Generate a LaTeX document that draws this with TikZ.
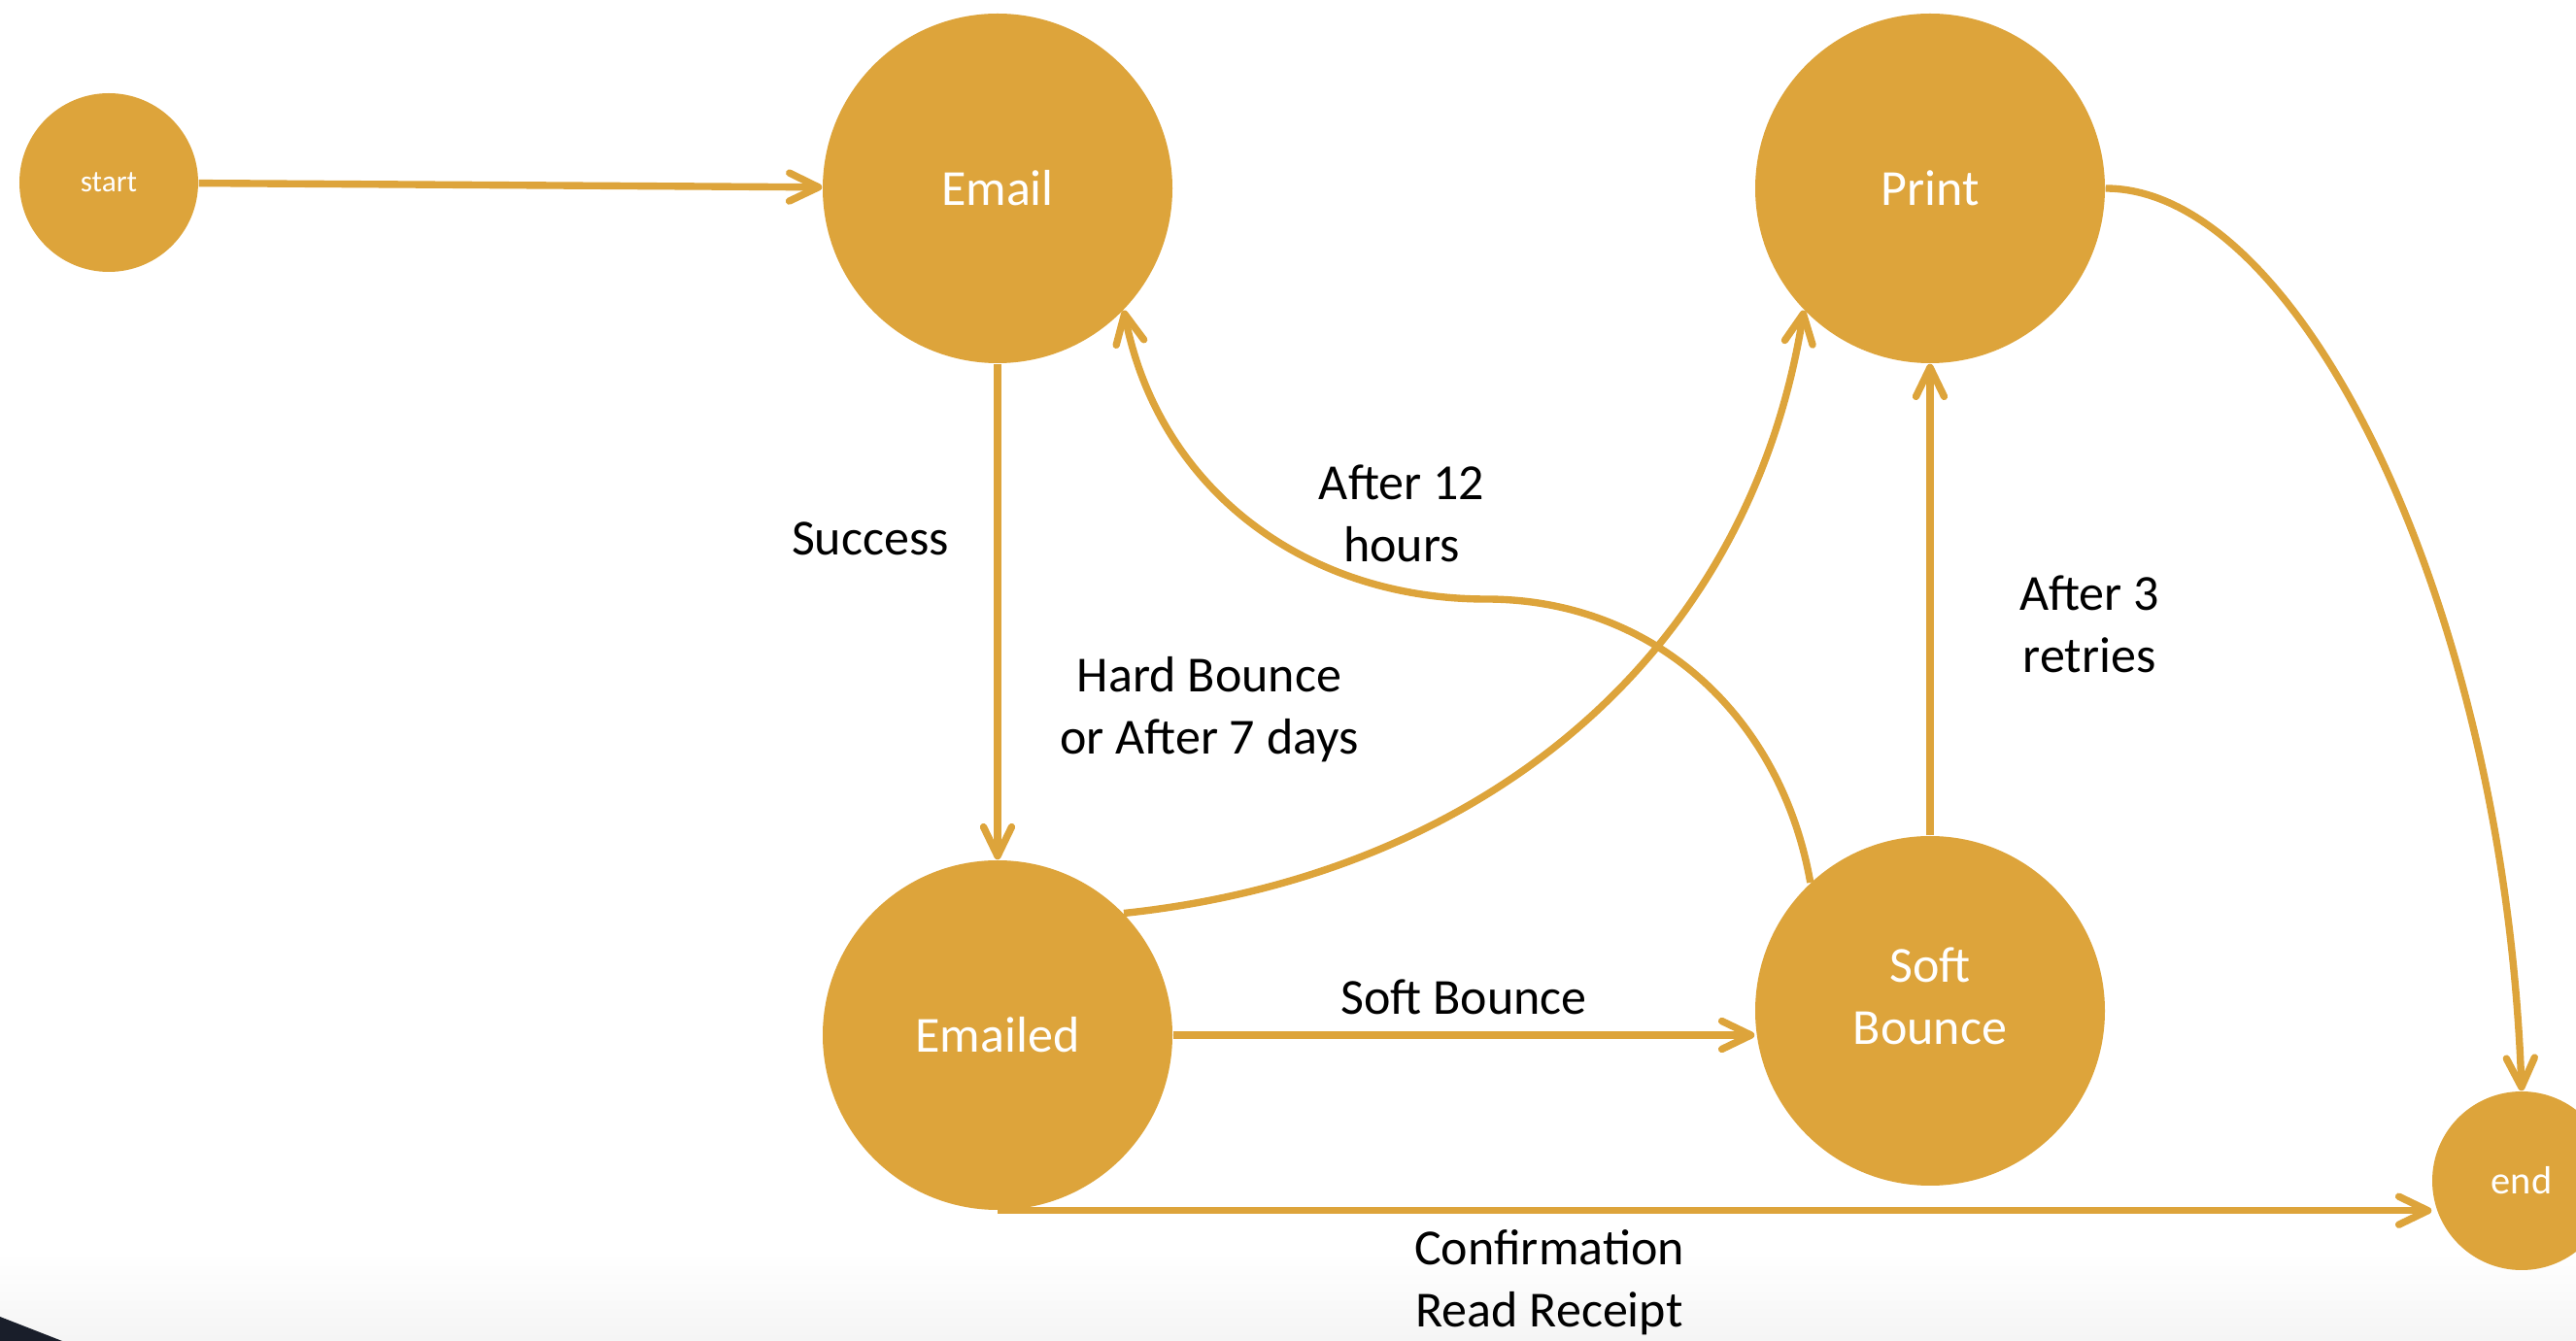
\documentclass[tikz,border=0pt]{standalone}
\usepackage{fontspec}
\setmainfont{Carlito}
\usetikzlibrary{arrows.meta}
\definecolor{ouro}{RGB}{221,164,59}
\definecolor{canto}{RGB}{25,30,42}

\begin{document}
\begin{tikzpicture}[
  estado/.style={circle, fill=ouro, text=white, inner sep=0pt, minimum size=3.6cm, align=center, font=\fontsize{14.8}{18.2}\selectfont},
  seta/.style={draw=ouro, line width=2.1pt, -{Straight Barb[length=3mm,width=2.9mm,round]}},
  rotulo/.style={align=center, font=\fontsize{14.8}{18.2}\selectfont}
]
  \useasboundingbox (0,0) rectangle (26.52,-13.81);
  % fundo
  \shade[top color=white, bottom color=black!4] (0,-12.9) rectangle (26.52,-13.81);
  \fill[canto] (0,-13.56) -- (0.64,-13.81) -- (0,-13.81) -- cycle;
  % estados
  \node[estado, minimum size=1.84cm, font=\fontsize{8.9}{10}\selectfont] (start) at (1.12,-1.88) {start};
  \node[estado] (email) at (10.27,-1.94) {Email};
  \node[estado] (print) at (19.87,-1.94) {Print};
  \node[estado] (emailed) at (10.27,-10.66) {Emailed};
  \node[estado, text depth=0.3cm] (soft) at (19.87,-10.41) {Soft\\Bounce};
  \node[estado, minimum size=1.84cm, font=\fontsize{11.5}{13}\selectfont] (final) at (25.96,-12.16) {end};
  \coordinate (m12) at (15.3,-6.17);
  % transicoes
  \draw[seta] (start) -- (email);
  \draw[seta] (email) -- (emailed);
  \draw[seta] (emailed.44) to[out=6,in=-99] (print.224);
  \draw[seta] (soft.133) to[out=100,in=0] (m12) to[out=180,in=-79] (email.316);
  \draw[seta] (soft) -- (print);
  \draw[seta] (emailed.east) -- (emailed.east -| soft.west);
  \draw[seta] (emailed.south) -- (emailed.south -| final.west);
  \draw[seta] (print.east) .. controls +(0:2) and +(92:5) .. (final.north);
  % rotulos
  \node[rotulo] (success) at (8.96,-5.55) {Success};
  \node[rotulo] (after12) at (14.43,-5.29) {After 12\\hours};
  \node[rotulo] (hard) at (12.45,-7.31) {Hard Bounce\\or After 7 days};
  \node[rotulo] (after3) at (21.51,-6.43) {After 3\\retries};
  \node[rotulo] (softlbl) at (15.07,-10.27) {Soft Bounce};
  \node[rotulo] (confirm) at (15.95,-13.21) {Confirmation\\Read Receipt};
\end{tikzpicture}
\end{document}
